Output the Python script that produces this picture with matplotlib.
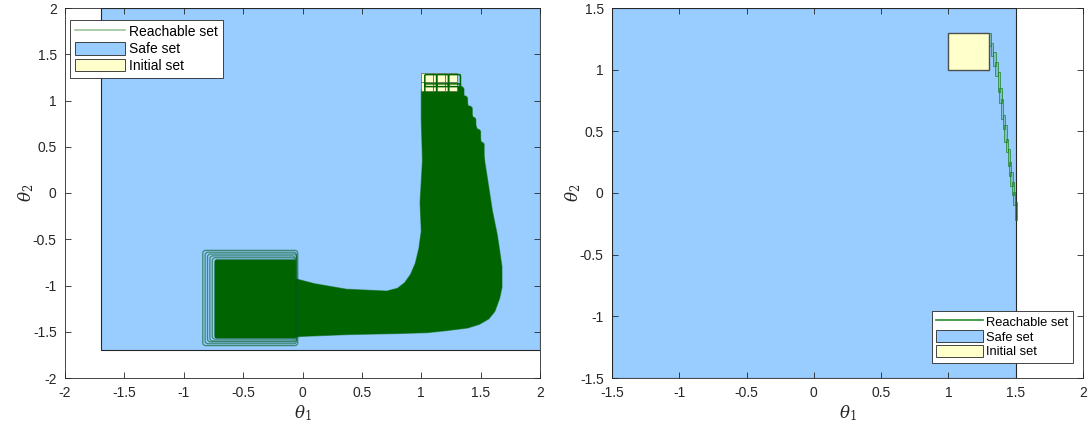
import matplotlib
matplotlib.use("Agg")
import matplotlib.pyplot as plt
from matplotlib.patches import Rectangle, Polygon, FancyBboxPatch, Patch
from matplotlib.lines import Line2D

plt.rcParams['font.family'] = ['Liberation Sans', 'DejaVu Sans']
plt.rcParams['mathtext.fontset'] = 'dejavuserif'

# colours used for the sets
SAFE_BLUE = '#99ccff'
INIT_YELLOW = '#ffffcc'
REACH_GREEN = '#006400'
EDGE_DARK = '#262626'

# ---- left panel: reachable set of the closed loop over the full horizon ----
safe_left = (-1.7, 2.0, -1.7, 2.0)  # xlo, xhi, ylo, yhi

# outline of the swept region
body_x = [1.00, 1.33, 1.36, 1.40, 1.44, 1.48, 1.51, 1.54, 1.57, 1.60, 1.64, 1.66,
          1.68, 1.68, 1.66, 1.62, 1.57, 1.49, 1.39, 1.20, 1.05, 0.80, 0.40, 0.00,
          -0.10, -0.10, -0.05, 0.10, 0.37, 0.71, 0.80, 0.86, 0.91, 0.95, 0.98,
          1.00, 0.99, 1.01, 1.00]
body_y = [1.12, 1.12, 1.05, 0.93, 0.80, 0.66, 0.52, 0.30, 0.05, -0.20, -0.45, -0.62,
          -0.80, -1.02, -1.14, -1.28, -1.36, -1.42, -1.46, -1.49, -1.51, -1.52, -1.53,
          -1.55, -1.56, -0.92, -0.93, -0.98, -1.04, -1.06, -1.03, -0.97, -0.88, -0.76,
          -0.60, -0.41, -0.10, 0.35, 0.80]

# final-step boxes (nested, bottom left)
final_xlo = [-0.84, -0.82, -0.80, -0.78, -0.76, -0.74]
final_xhi = [-0.04, -0.05, -0.05, -0.06, -0.06, -0.06]
final_ylo = [-1.65, -1.63, -1.61, -1.60, -1.58, -1.57]
final_yhi = [-0.62, -0.64, -0.66, -0.68, -0.70, -0.72]

# early-step boxes along the upper right edge
step_xlo = [1.02, 1.04, 1.06, 1.08, 1.10, 1.12]
step_xhi = [1.36, 1.39, 1.43, 1.46, 1.50, 1.53]
step_ylo = [0.98, 0.86, 0.74, 0.60, 0.46, 0.30]
step_yhi = [1.15, 1.05, 0.94, 0.82, 0.69, 0.55]

# initial set partition
init_x = [1.0, 1.1, 1.2]
init_y = [1.1, 1.2]
init_cell = 0.1

# ---- right panel: single trajectory ----
safe_right = (-1.5, 1.5, -1.5, 1.5)
init_right = (1.0, 1.3, 1.0, 1.3)

traj_xlo = [1.300, 1.315, 1.332, 1.348, 1.365, 1.378, 1.390, 1.403,
            1.415, 1.427, 1.440, 1.450, 1.460, 1.470, 1.480, 1.492]
traj_xhi = [1.316, 1.333, 1.350, 1.365, 1.383, 1.395, 1.407, 1.420,
            1.432, 1.444, 1.457, 1.467, 1.477, 1.487, 1.497, 1.507]
traj_ylo = [1.19, 1.11, 1.03, 0.95, 0.82, 0.73, 0.60, 0.52,
            0.41, 0.33, 0.22, 0.14, 0.06, -0.02, -0.10, -0.22]
traj_yhi = [1.30, 1.22, 1.14, 1.06, 0.98, 0.85, 0.76, 0.63,
            0.55, 0.44, 0.36, 0.25, 0.17, 0.09, 0.01, -0.07]


def rect(ax, xlo, xhi, ylo, yhi, **kw):
    ax.add_patch(Rectangle((xlo, ylo), xhi - xlo, yhi - ylo, **kw))


def rbox(ax, xlo, xhi, ylo, yhi, r=0.025, aspect=1.29, **kw):
    ax.add_patch(FancyBboxPatch((xlo, ylo), xhi - xlo, yhi - ylo,
                                boxstyle=f"round,pad=0,rounding_size={r}",
                                mutation_aspect=aspect, **kw))


def style_axes(ax, xlim, ylim, xticks, yticks):
    ax.set_xlim(*xlim)
    ax.set_ylim(*ylim)
    ax.set_xticks(xticks)
    ax.set_yticks(yticks)
    ax.set_xticklabels([f"{t:g}" for t in xticks])
    ax.set_yticklabels([f"{t:g}" for t in yticks])
    ax.tick_params(direction='in', top=True, right=True, length=4,
                   width=0.6, colors=EDGE_DARK, labelsize=10, pad=6)
    for s in ax.spines.values():
        s.set_color(EDGE_DARK)
        s.set_linewidth(0.6)
    ax.set_xlabel(r'$\theta_1$', fontsize=12, color=EDGE_DARK, labelpad=2)
    ax.set_ylabel(r'$\theta_2$', fontsize=12, color=EDGE_DARK, labelpad=-2)


def add_legend(ax, line_color, size=10, spacing=0.2, **kw):
    handles = [Line2D([], [], color=line_color, lw=1.2),
               Patch(facecolor=SAFE_BLUE, edgecolor=EDGE_DARK, lw=0.6),
               Patch(facecolor=INIT_YELLOW, edgecolor=EDGE_DARK, lw=0.6)]
    leg = ax.legend(handles, ['Reachable set', 'Safe set', 'Initial set'],
                    fontsize=size, fancybox=False, framealpha=1, edgecolor=EDGE_DARK,
                    handlelength=3.6, handleheight=1.05, handletextpad=0.3,
                    labelspacing=spacing, borderpad=0.35, borderaxespad=0, **kw)
    leg.get_frame().set_linewidth(0.6)
    leg.set_zorder(10)
    return leg


fig = plt.figure(figsize=(10.9, 4.32), dpi=100)
ax1 = fig.add_axes([65 / 1090, 54 / 432, 475 / 1090, 370 / 432])
ax2 = fig.add_axes([612 / 1090, 54 / 432, 471 / 1090, 370 / 432])

edge_alpha = (0.0, 0.4, 0.0, 0.5)

# left panel
rect(ax1, *safe_left, facecolor=SAFE_BLUE, edgecolor=EDGE_DARK, lw=0.8, zorder=1)
ax1.add_patch(Polygon(list(zip(body_x, body_y)), closed=True, facecolor=REACH_GREEN,
                      edgecolor=edge_alpha, lw=0.8, zorder=2))
for i in range(len(step_xlo)):
    rbox(ax1, step_xlo[i], step_xhi[i], step_ylo[i], step_yhi[i],
         facecolor=REACH_GREEN, edgecolor=edge_alpha, lw=0.8, zorder=3)
for i in range(len(final_xlo)):
    rbox(ax1, final_xlo[i], final_xhi[i], final_ylo[i], final_yhi[i],
         facecolor='none', edgecolor=(0.0, 0.35, 0.1, 0.6), lw=0.9, zorder=3)
rect(ax1, final_xlo[-1], final_xhi[-1], final_ylo[-1], final_yhi[-1],
     facecolor=REACH_GREEN, edgecolor='none', zorder=3)
for x0 in init_x:
    for y0 in init_y:
        rect(ax1, x0, x0 + init_cell, y0, y0 + init_cell,
             facecolor=INIT_YELLOW, edgecolor=(0.3, 0.4, 0.3), lw=0.5, zorder=4)
        # first reachable step of each cell
        rbox(ax1, x0 + 0.03, x0 + init_cell + 0.03, y0 - 0.05, y0 + init_cell - 0.02,
             r=0.01, facecolor='none', edgecolor=REACH_GREEN, lw=1.1, zorder=5)

style_axes(ax1, (-2, 2), (-2, 2),
           [-2, -1.5, -1, -0.5, 0, 0.5, 1, 1.5, 2],
           [-2, -1.5, -1, -0.5, 0, 0.5, 1, 1.5, 2])
add_legend(ax1, '#99c599', loc='upper left', bbox_to_anchor=(0.0105, 0.968))

# right panel
rect(ax2, *safe_right, facecolor=SAFE_BLUE, edgecolor=EDGE_DARK, lw=0.8, zorder=1)
rect(ax2, *init_right, facecolor=INIT_YELLOW, edgecolor='#4d4d4d', lw=1.0, zorder=2)
for i in range(len(traj_xlo)):
    rect(ax2, traj_xlo[i], traj_xhi[i], traj_ylo[i], traj_yhi[i],
         facecolor=(0.2, 0.6, 0.2, 0.25), edgecolor=(0.1, 0.5, 0.1, 0.7),
         lw=0.7, zorder=3)

style_axes(ax2, (-1.5, 2), (-1.5, 1.5),
           [-1.5, -1, -0.5, 0, 0.5, 1, 1.5, 2],
           [-1.5, -1, -0.5, 0, 0.5, 1, 1.5])
add_legend(ax2, '#2e8b2e', size=9.3, spacing=0.12,
           loc='lower right', bbox_to_anchor=(0.979, 0.0405))

fig.savefig('out.png', dpi=100)
